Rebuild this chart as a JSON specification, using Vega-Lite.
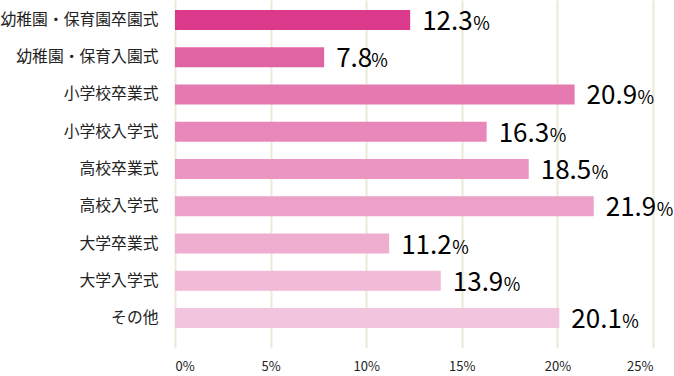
{
  "$schema": "https://vega.github.io/schema/vega-lite/v6.json",
  "width": 478,
  "height": 348,
  "autosize": {"type": "none"},
  "padding": {"left": 175, "top": 0, "right": 21, "bottom": 28},
  "background": "white",
  "config": {"view": {"stroke": null}, "font": "Noto Sans CJK JP"},
  "data": {
    "values": [
      {"label": "幼稚園・保育園卒園式", "value": 12.3, "color": "#DB3A8B"},
      {"label": "幼稚園・保育入園式", "value": 7.8, "color": "#E064A3"},
      {"label": "小学校卒業式", "value": 20.9, "color": "#E57AB1"},
      {"label": "小学校入学式", "value": 16.3, "color": "#E888BA"},
      {"label": "高校卒業式", "value": 18.5, "color": "#EA96C1"},
      {"label": "高校入学式", "value": 21.9, "color": "#ECA2C8"},
      {"label": "大学卒業式", "value": 11.2, "color": "#EFAED0"},
      {"label": "大学入学式", "value": 13.9, "color": "#F1BAD7"},
      {"label": "その他", "value": 20.1, "color": "#F2C4DE"}
    ]
  },
  "encoding": {
    "y": {
      "field": "label",
      "type": "nominal",
      "sort": null,
      "scale": {"paddingInner": 0.463, "paddingOuter": 0.4, "align": 0.333},
      "axis": {
        "title": null,
        "ticks": false,
        "domain": false,
        "labelFont": "Noto Sans CJK JP",
        "labelFontSize": 15.8,
        "labelColor": "#222222",
        "labelPadding": 17,
        "labelLimit": 200
      }
    },
    "x": {
      "field": "value",
      "type": "quantitative",
      "scale": {"domain": [0, 25], "nice": false},
      "axis": {
        "title": null,
        "values": [0, 5, 10, 15, 20, 25],
        "labelExpr": "datum.value + '%'",
        "ticks": false,
        "domain": false,
        "grid": true,
        "gridColor": "#EEE9D6",
        "gridWidth": 2,
        "labelFont": "Noto Sans CJK JP",
        "labelFontSize": 13,
        "labelColor": "#222222",
        "labelPadding": 12,
        "labelBaseline": "top"
      }
    }
  },
  "layer": [
    {
      "mark": {"type": "bar"},
      "encoding": {"color": {"field": "color", "type": "nominal", "scale": null}}
    },
    {
      "mark": {"type": "text", "align": "left", "baseline": "alphabetic", "dx": 12, "dy": 10, "fontSize": 26, "font": "Noto Sans CJK JP", "color": "#000000"},
      "encoding": {"text": {"field": "value", "type": "quantitative", "format": ".1f"}}
    },
    {
      "transform": [{"filter": "datum.value >= 10"}],
      "mark": {"type": "text", "align": "left", "baseline": "alphabetic", "dx": 63, "dy": 10, "fontSize": 18, "font": "Noto Sans CJK JP", "color": "#000000"},
      "encoding": {"text": {"value": "%"}}
    },
    {
      "transform": [{"filter": "datum.value < 10"}],
      "mark": {"type": "text", "align": "left", "baseline": "alphabetic", "dx": 47, "dy": 10, "fontSize": 18, "font": "Noto Sans CJK JP", "color": "#000000"},
      "encoding": {"text": {"value": "%"}}
    }
  ]
}
